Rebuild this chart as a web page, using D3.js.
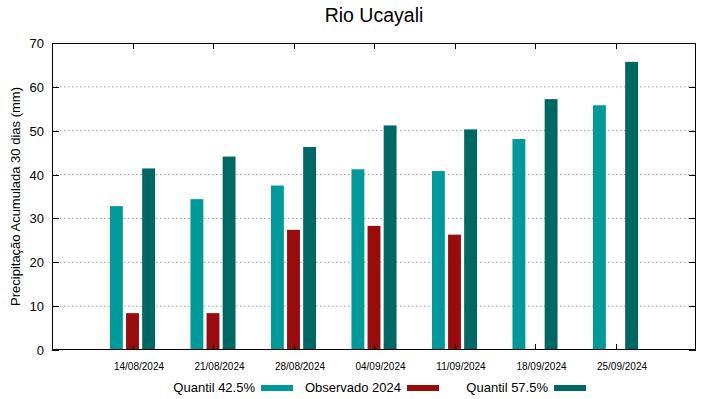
<!DOCTYPE html>
<html><head><meta charset="utf-8">
<script src="https://cdn.jsdelivr.net/npm/d3@7"></script>
<style>body{margin:0;background:#fff}svg{display:block}text{font-family:"Liberation Sans",Arial,sans-serif}</style>
</head><body>
<svg id="c" width="719" height="399"></svg>
<script>
const categories = ["14/08/2024","21/08/2024","28/08/2024","04/09/2024","11/09/2024","18/09/2024","25/09/2024"];
const q425 = [32.8, 34.4, 37.5, 41.2, 40.8, 48.1, 55.8];
const obs2024 = [8.4, 8.4, 27.4, 28.3, 26.3, null, null];
const q575 = [41.4, 44.1, 46.3, 51.2, 50.3, 57.2, 65.7];
const yTicks = [0,10,20,30,40,50,60,70];
const seriesNames = ["Quantil 42.5%","Observado 2024","Quantil 57.5%"];
const colors = ["#009999","#980c0e","#006864"];

const svg = d3.select("#c");
const L=52,R=696,T=43,B=350;
const x = d3.scaleLinear().domain([0,categories.length+1]).range([L,R]);
const y = d3.scaleLinear().domain([0,70]).range([B,T]);

// grid
svg.append("g").selectAll("line").data(yTicks.slice(1,-1)).join("line")
  .attr("x1",L).attr("x2",R).attr("y1",d=>y(d)).attr("y2",d=>y(d))
  .attr("stroke","#999").attr("stroke-width",1).attr("stroke-dasharray","1.5,2.5");

// bars
const series=[q425,obs2024,q575];
const offs=[-0.2,0,0.2], bw=0.16;
series.forEach((s,si)=>{
  svg.append("g").selectAll("rect").data(s.map((v,i)=>({v,i}))).join("rect")
    .filter(d=>d.v!=null)
    .attr("x",d=>x(d.i+1+offs[si]-bw/2)).attr("width",x(bw)-x(0))
    .attr("y",d=>y(d.v)).attr("height",d=>B-y(d.v))
    .attr("fill",colors[si]);
});

// border
svg.append("rect").attr("x",L+0.5).attr("y",T+0.5).attr("width",R-L-1).attr("height",B-T-1)
  .attr("fill","none").attr("stroke","#000").attr("stroke-width",1);

// y ticks left and right
const yt=svg.append("g");
yTicks.forEach(t=>{
  const py=Math.round(y(t))+0.5;
  yt.append("line").attr("x1",L).attr("x2",L+7).attr("y1",py).attr("y2",py).attr("stroke","#000");
  yt.append("line").attr("x1",R-7).attr("x2",R).attr("y1",py).attr("y2",py).attr("stroke","#000");
  yt.append("text").attr("x",L-8).attr("y",py+4.5).attr("text-anchor","end").attr("font-size",13).text(t);
});
// x ticks
const xt=svg.append("g");
categories.forEach((c,i)=>{
  const px=Math.round(x(i+1))+0.5;
  xt.append("line").attr("x1",px).attr("x2",px).attr("y1",B).attr("y2",B-6).attr("stroke","#000");
  xt.append("line").attr("x1",px).attr("x2",px).attr("y1",T).attr("y2",T+6).attr("stroke","#000");
  xt.append("text").attr("x",x(i+1)+6.5).attr("y",B+20).attr("text-anchor","middle").attr("font-size",10).text(c);
});

// title
svg.append("text").attr("x",(L+R)/2).attr("y",22).attr("text-anchor","middle").attr("font-size",19.5).text("Rio Ucayali");
// y label
svg.append("text").attr("transform",`translate(20,${(T+B)/2}) rotate(-90)`).attr("text-anchor","middle")
  .attr("font-size",13).text("Precipitação Acumulada 30 dias (mm)");

// legend
const legEnds=[255,401,548];
seriesNames.forEach((n,i)=>{
  svg.append("text").attr("x",legEnds[i]).attr("y",392).attr("text-anchor","end").attr("font-size",13).text(n);
  svg.append("rect").attr("x",legEnds[i]+6).attr("y",385).attr("width",32).attr("height",6).attr("fill",colors[i]);
});
</script>
</body></html>
